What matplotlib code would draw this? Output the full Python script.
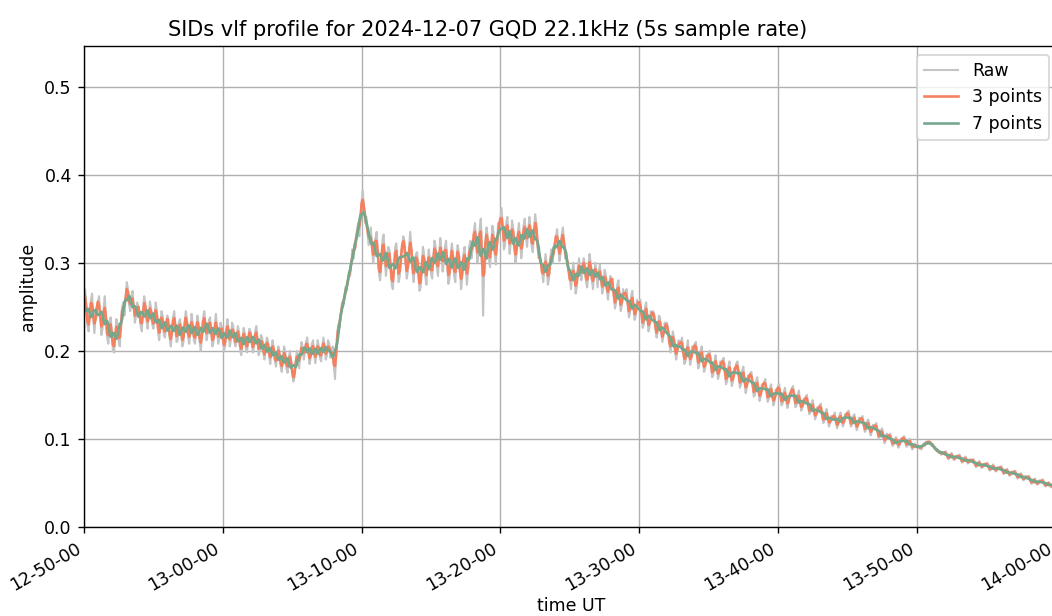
import numpy as np
import pandas as pd
import matplotlib
matplotlib.use('Agg')
import matplotlib.pyplot as plt
import matplotlib.dates as mdates

# Raw amplitude, one row per minute (5 s samples), from 12:50:00
raw = [
    0.262, 0.270, 0.250, 0.228, 0.222, 0.240, 0.258, 0.265, 0.235, 0.220, 0.238, 0.250,
    0.255, 0.262, 0.240, 0.218, 0.225, 0.248, 0.262, 0.236, 0.215, 0.208, 0.230, 0.238,
    0.222, 0.200, 0.198, 0.218, 0.236, 0.228, 0.210, 0.205, 0.232, 0.250, 0.255, 0.240,
    0.262, 0.278, 0.270, 0.252, 0.245, 0.262, 0.268, 0.248, 0.232, 0.240, 0.255, 0.250,
    0.245, 0.228, 0.222, 0.245, 0.262, 0.255, 0.235, 0.225, 0.240, 0.256, 0.248, 0.230,
    0.225, 0.238, 0.255, 0.245, 0.222, 0.212, 0.228, 0.245, 0.240, 0.218, 0.215, 0.232,
    0.240, 0.236, 0.215, 0.205, 0.220, 0.238, 0.245, 0.228, 0.210, 0.212, 0.232, 0.236,
    0.222, 0.205, 0.210, 0.232, 0.245, 0.236, 0.215, 0.208, 0.225, 0.242, 0.230, 0.212,
    0.208, 0.225, 0.240, 0.232, 0.210, 0.200, 0.218, 0.238, 0.245, 0.228, 0.212, 0.220,
    0.235, 0.238, 0.222, 0.205, 0.210, 0.228, 0.242, 0.226, 0.208, 0.214, 0.232, 0.228,
    0.215, 0.200, 0.205, 0.225, 0.236, 0.222, 0.205, 0.212, 0.232, 0.228, 0.210, 0.205,  # 13:00
    0.215, 0.228, 0.222, 0.200, 0.195, 0.212, 0.226, 0.220, 0.202, 0.198, 0.215, 0.225,
    0.222, 0.210, 0.198, 0.205, 0.222, 0.228, 0.212, 0.195, 0.200, 0.218, 0.215, 0.198,
    0.190, 0.200, 0.215, 0.212, 0.195, 0.185, 0.198, 0.212, 0.205, 0.188, 0.182, 0.196,
    0.205, 0.200, 0.182, 0.176, 0.190, 0.205, 0.198, 0.180, 0.175, 0.192, 0.200, 0.188,
    0.175, 0.165, 0.170, 0.188, 0.200, 0.192, 0.180, 0.195, 0.210, 0.205, 0.190, 0.198,
    0.210, 0.215, 0.198, 0.185, 0.192, 0.208, 0.212, 0.196, 0.186, 0.198, 0.212, 0.205,
    0.192, 0.188, 0.205, 0.215, 0.205, 0.190, 0.195, 0.212, 0.208, 0.192, 0.198, 0.205,
    0.182, 0.168, 0.198, 0.222, 0.230, 0.226, 0.242, 0.255, 0.250, 0.258, 0.272, 0.268,
    0.278, 0.290, 0.285, 0.298, 0.315, 0.305, 0.322, 0.318, 0.338, 0.345, 0.330, 0.350,
    0.370, 0.382, 0.362, 0.345, 0.352, 0.338, 0.320, 0.330, 0.340, 0.315, 0.300, 0.312,  # 13:10
    0.328, 0.335, 0.310, 0.288, 0.280, 0.300, 0.325, 0.332, 0.305, 0.285, 0.298, 0.318,
    0.315, 0.298, 0.275, 0.270, 0.292, 0.318, 0.322, 0.300, 0.278, 0.285, 0.310, 0.318,
    0.330, 0.325, 0.300, 0.282, 0.290, 0.315, 0.335, 0.318, 0.290, 0.278, 0.296, 0.310,
    0.312, 0.290, 0.268, 0.272, 0.295, 0.318, 0.310, 0.285, 0.275, 0.298, 0.315, 0.305,
    0.288, 0.282, 0.305, 0.325, 0.318, 0.295, 0.285, 0.308, 0.328, 0.315, 0.290, 0.300,
    0.318, 0.325, 0.300, 0.276, 0.282, 0.308, 0.322, 0.310, 0.285, 0.278, 0.305, 0.320,
    0.312, 0.290, 0.270, 0.285, 0.310, 0.318, 0.298, 0.275, 0.290, 0.318, 0.325, 0.305,
    0.315, 0.335, 0.345, 0.325, 0.300, 0.310, 0.338, 0.350, 0.318, 0.240, 0.298, 0.325,
    0.340, 0.330, 0.305, 0.295, 0.318, 0.342, 0.335, 0.310, 0.298, 0.320, 0.345, 0.338,
    0.350, 0.362, 0.340, 0.315, 0.320, 0.345, 0.352, 0.330, 0.310, 0.325, 0.348, 0.340,  # 13:20
    0.318, 0.300, 0.310, 0.335, 0.345, 0.325, 0.305, 0.318, 0.342, 0.350, 0.330, 0.318,
    0.335, 0.352, 0.340, 0.318, 0.312, 0.335, 0.355, 0.345, 0.320, 0.305, 0.310, 0.300,
    0.290, 0.278, 0.295, 0.310, 0.298, 0.275, 0.282, 0.305, 0.315, 0.300, 0.310, 0.322,
    0.330, 0.338, 0.320, 0.302, 0.310, 0.332, 0.340, 0.322, 0.305, 0.312, 0.300, 0.290,
    0.282, 0.270, 0.288, 0.300, 0.285, 0.265, 0.272, 0.295, 0.305, 0.290, 0.280, 0.296,
    0.305, 0.298, 0.278, 0.272, 0.292, 0.310, 0.300, 0.280, 0.270, 0.288, 0.300, 0.290,
    0.272, 0.290, 0.298, 0.282, 0.265, 0.272, 0.292, 0.288, 0.268, 0.258, 0.275, 0.285,
    0.278, 0.282, 0.262, 0.248, 0.255, 0.275, 0.280, 0.260, 0.245, 0.252, 0.270, 0.265,
    0.262, 0.270, 0.255, 0.238, 0.242, 0.262, 0.268, 0.250, 0.235, 0.240, 0.258, 0.252,
    0.255, 0.258, 0.240, 0.226, 0.230, 0.250, 0.255, 0.238, 0.222, 0.228, 0.245, 0.240,  # 13:30
    0.245, 0.242, 0.225, 0.215, 0.222, 0.240, 0.238, 0.220, 0.210, 0.218, 0.232, 0.226,
    0.232, 0.225, 0.208, 0.198, 0.210, 0.222, 0.215, 0.198, 0.190, 0.202, 0.212, 0.205,
    0.210, 0.215, 0.200, 0.185, 0.188, 0.202, 0.212, 0.198, 0.184, 0.190, 0.205, 0.200,
    0.208, 0.210, 0.195, 0.180, 0.185, 0.200, 0.205, 0.190, 0.176, 0.180, 0.195, 0.190,
    0.198, 0.200, 0.185, 0.170, 0.172, 0.188, 0.195, 0.182, 0.168, 0.172, 0.188, 0.182,
    0.190, 0.192, 0.176, 0.162, 0.166, 0.182, 0.188, 0.174, 0.160, 0.165, 0.180, 0.176,
    0.186, 0.188, 0.172, 0.158, 0.162, 0.178, 0.182, 0.166, 0.152, 0.158, 0.172, 0.168,
    0.175, 0.176, 0.162, 0.148, 0.150, 0.165, 0.170, 0.156, 0.143, 0.148, 0.162, 0.158,
    0.165, 0.168, 0.155, 0.142, 0.145, 0.158, 0.162, 0.150, 0.138, 0.143, 0.156, 0.152,
    0.160, 0.162, 0.150, 0.138, 0.140, 0.153, 0.158, 0.146, 0.135, 0.140, 0.152, 0.150,  # 13:40
    0.158, 0.160, 0.148, 0.136, 0.138, 0.150, 0.155, 0.142, 0.132, 0.135, 0.145, 0.142,
    0.148, 0.150, 0.138, 0.128, 0.130, 0.140, 0.144, 0.132, 0.122, 0.126, 0.136, 0.132,
    0.138, 0.140, 0.128, 0.118, 0.120, 0.130, 0.134, 0.124, 0.114, 0.118, 0.126, 0.122,
    0.126, 0.130, 0.120, 0.112, 0.116, 0.126, 0.130, 0.122, 0.114, 0.118, 0.128, 0.126,
    0.130, 0.132, 0.122, 0.114, 0.116, 0.126, 0.128, 0.118, 0.110, 0.114, 0.124, 0.120,
    0.124, 0.126, 0.116, 0.108, 0.110, 0.120, 0.122, 0.112, 0.104, 0.108, 0.116, 0.112,
    0.116, 0.118, 0.108, 0.100, 0.102, 0.110, 0.112, 0.103, 0.095, 0.098, 0.106, 0.102,
    0.104, 0.106, 0.098, 0.092, 0.094, 0.100, 0.102, 0.096, 0.090, 0.093, 0.100, 0.098,
    0.102, 0.103, 0.097, 0.091, 0.093, 0.099, 0.100, 0.094, 0.088, 0.090, 0.095, 0.093,
    0.090, 0.093, 0.089, 0.092, 0.088, 0.093, 0.095, 0.092, 0.097, 0.094, 0.098, 0.096,  # 13:50
    0.096, 0.092, 0.094, 0.089, 0.090, 0.086, 0.088, 0.084, 0.086, 0.082, 0.085, 0.083,
    0.085, 0.086, 0.081, 0.077, 0.078, 0.082, 0.084, 0.080, 0.076, 0.077, 0.081, 0.079,
    0.081, 0.082, 0.077, 0.073, 0.074, 0.078, 0.080, 0.076, 0.072, 0.073, 0.077, 0.075,
    0.076, 0.077, 0.072, 0.068, 0.069, 0.073, 0.075, 0.071, 0.067, 0.068, 0.072, 0.070,
    0.072, 0.073, 0.068, 0.064, 0.065, 0.069, 0.071, 0.067, 0.063, 0.064, 0.068, 0.066,
    0.068, 0.069, 0.064, 0.060, 0.061, 0.065, 0.066, 0.062, 0.058, 0.059, 0.063, 0.061,
    0.063, 0.064, 0.059, 0.055, 0.056, 0.060, 0.061, 0.057, 0.053, 0.054, 0.058, 0.056,
    0.057, 0.058, 0.053, 0.049, 0.050, 0.054, 0.055, 0.051, 0.048, 0.049, 0.053, 0.051,
    0.053, 0.054, 0.049, 0.046, 0.047, 0.050, 0.051, 0.048, 0.045, 0.046, 0.049, 0.047,
    0.046,  # 14:00
]

start = '2024-12-07 12:50:00'
times = pd.date_range(start, periods=len(raw), freq='5s')
s = pd.Series(raw, index=times)

# running means like the original profile
avg3 = s.rolling(3, center=True, min_periods=1).mean()
avg7 = s.rolling(7, center=True, min_periods=1).mean()

fig = plt.figure(figsize=(1052 / 125, 616 / 125), dpi=125)
ax = fig.add_axes([84 / 1052, 89 / 616, 974 / 1052, 481 / 616])

ax.plot(s.index, s.values, color='#c4c4c4', lw=1.2, label='Raw')
ax.plot(avg3.index, avg3.values, color='#f5805e', lw=1.5, label='3 points')
ax.plot(avg7.index, avg7.values, color='#74a78b', lw=1.5, label='7 points')

ax.set_xlim(pd.Timestamp('2024-12-07 12:50:00'), pd.Timestamp('2024-12-07 14:00:10'))
ax.set_ylim(0, 0.546)
ax.xaxis.set_major_locator(mdates.MinuteLocator(byminute=range(0, 60, 10)))
ax.xaxis.set_major_formatter(mdates.DateFormatter('%H-%M-%S'))
plt.setp(ax.get_xticklabels(), rotation=30, ha='right')

ax.grid(True)
ax.set_xlabel('time UT', labelpad=1.5)
ax.set_ylabel('amplitude')
ax.set_title('SIDs vlf profile for 2024-12-07 GQD 22.1kHz (5s sample rate)', x=0.414)
ax.legend(loc='upper right')

fig.savefig('out.png', dpi=125)
